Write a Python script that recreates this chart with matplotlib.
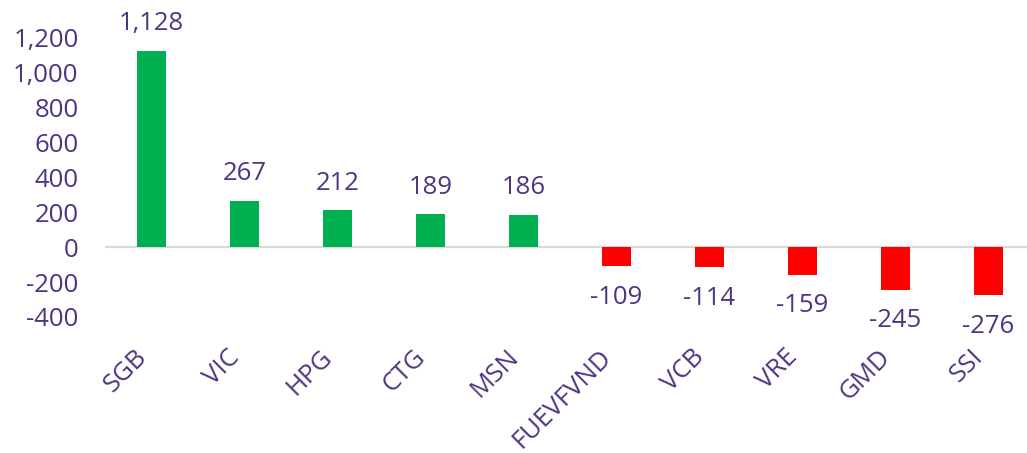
import matplotlib.pyplot as plt

tickers = ["SGB", "VIC", "HPG", "CTG", "MSN", "FUEVFVND", "VCB", "VRE", "GMD", "SSI"]
net_values = [1128, 267, 212, 189, 186, -109, -114, -159, -245, -276]
y_ticks = [-400, -200, 0, 200, 400, 600, 800, 1000, 1200]

purple = "#4F3480"
green = "#00B050"
red = "#FF0000"

plt.rcParams["font.family"] = ["Open Sans", "DejaVu Sans"]

fig = plt.figure(figsize=(10.27, 4.53), dpi=100)
ax = fig.add_axes([105 / 1027, 1 - 317 / 453, 930 / 1027, (317 - 38) / 453])

colors = [green if v >= 0 else red for v in net_values]
x = list(range(len(tickers)))
ax.bar(x, net_values, width=0.31, color=colors, zorder=2)

for xi, v in zip(x, net_values):
    off = 27 if v >= 0 else -31
    ax.annotate(f"{v:,}", (xi, v), xytext=(0, off), textcoords="offset pixels",
                ha="center", va="center", fontsize=18.5, color=purple,
                annotation_clip=False)

ax.axhline(0, color="#D9D9D9", lw=1.6, zorder=1)
ax.set_xlim(-0.5, len(tickers) - 0.5)
ax.set_ylim(-400, 1200)
ax.set_yticks(y_ticks)
ax.set_yticklabels([f"{t:,}" for t in y_ticks])
ax.set_xticks(x)
ax.set_xticklabels(tickers, rotation=45, ha="right", va="top")

for s in ax.spines.values():
    s.set_visible(False)
ax.tick_params(axis="y", length=0, pad=19, labelsize=18.5, labelcolor=purple)
ax.tick_params(axis="x", length=0, pad=20, labelsize=18.5, labelcolor=purple)

# title sits above the visible crop, only its descenders peek in
fig.text(568 / 1027, 1 + 9 / 453, "Net buy/sell by strategy", ha="right", va="baseline",
         fontsize=18.5, fontweight="bold", color=purple)

fig.savefig("out.png", dpi=100)
